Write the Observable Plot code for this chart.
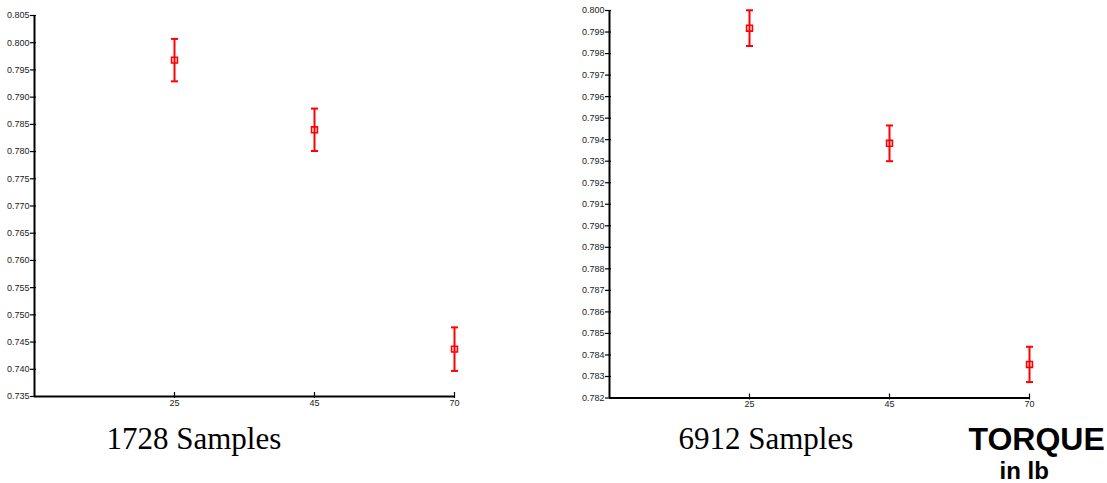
<!DOCTYPE html>
<html><head><meta charset="utf-8">
<script src="https://cdn.jsdelivr.net/npm/d3@7"></script>
<script src="https://cdn.jsdelivr.net/npm/@observablehq/plot@0.6"></script>
<style>
body{margin:0;background:#fff;}
#wrap{position:relative;width:1107px;height:483px;overflow:hidden;}
#wrap > svg{position:absolute;top:0;}
</style></head>
<body><div id="wrap"></div>
<script>
const torques = [25, 45, 70];
const meanA = [0.7968, 0.7840, 0.7437];
const errA = [0.0039, 0.0039, 0.0040];
const meanB = [0.79918, 0.79383, 0.78356];
const errB = [0.00083, 0.00083, 0.00082];
const ticksA = [0.735,0.740,0.745,0.750,0.755,0.760,0.765,0.770,0.775,0.780,0.785,0.790,0.795,0.800,0.805];
const ticksB = [0.782,0.783,0.784,0.785,0.786,0.787,0.788,0.789,0.790,0.791,0.792,0.793,0.794,0.795,0.796,0.797,0.798,0.799,0.800];
const captionA = "1728 Samples";
const captionB = "6912 Samples";
const unitTitle = ["TORQUE", "in lb"];

const red = "#ff0000";
const capSymbol = {draw(ctx){ ctx.moveTo(-3.5,0); ctx.lineTo(3.5,0); }};

function panel(mean, err, yTicks, yDomain, opts, extra) {
  const data = torques.map((t,i)=>({i:i+1, t, m:mean[i], lo:mean[i]-err[i], hi:mean[i]+err[i]}));
  return Plot.plot({
    width: opts.width, height: 483,
    marginLeft: 34, marginRight: opts.marginRight, marginTop: opts.marginTop, marginBottom: opts.marginBottom,
    style: {fontFamily: "Liberation Sans, Arial, sans-serif", background: "transparent"},
    x: {domain: [0, 3], ticks: [1,2,3], tickFormat: i => torques[i-1], label: null},
    y: {domain: yDomain, ticks: yTicks, tickFormat: d3.format(".3f"), label: null},
    marks: [
      Plot.axisY({ticks: yTicks, tickFormat: d3.format(".3f"), label: null, tickSize: 6, dx: 2, tickPadding: 1, fontSize: 9, stroke: "#000", strokeWidth: 1.2, fill: "#222"}),
      Plot.axisX({ticks: [1,2,3], tickFormat: i => torques[i-1], label: null, tickSize: 6, dy: -4, tickPadding: 1, fontSize: 9, stroke: "#000", strokeWidth: 1.2, fill: "#222"}),
      Plot.ruleX([0], {stroke: "#000", strokeWidth: 2}),
      Plot.ruleY([yDomain[0]], {stroke: "#000", strokeWidth: 2}),
      Plot.ruleX(data, {x: "i", y1: "lo", y2: "hi", stroke: red, strokeWidth: 2}),
      Plot.dot(data, {x: "i", y: "hi", symbol: capSymbol, stroke: red, fill: "none", strokeWidth: 2}),
      Plot.dot(data, {x: "i", y: "lo", symbol: capSymbol, stroke: red, fill: "none", strokeWidth: 2}),
      Plot.dot(data, {x: "i", y: "m", symbol: "square", r: 3.3, stroke: red, fill: "none", strokeWidth: 1.6}),
      ...extra
    ]
  });
}

const svgA = panel(meanA, errA, ticksA, [0.735, 0.805], {width: 540, marginRight: 86, marginTop: 15, marginBottom: 87}, [
  Plot.text([captionA], {frameAnchor: "bottom-left", dx: 72, dy: 52, textAnchor: "start", lineAnchor: "bottom", fontSize: 31, fontFamily: "Liberation Serif, Times New Roman, serif", fill: "#000"})
]);
const svgB = panel(meanB, errB, ticksB, [0.782, 0.800], {width: 532, marginRight: 78, marginTop: 10, marginBottom: 85.5}, [
  Plot.text([captionB], {frameAnchor: "bottom-left", dx: 69, dy: 51, textAnchor: "start", lineAnchor: "bottom", fontSize: 31, fontFamily: "Liberation Serif, Times New Roman, serif", fill: "#000"}),
  Plot.text([unitTitle[0]], {frameAnchor: "bottom-left", dx: 359, dy: 52, textAnchor: "start", lineAnchor: "bottom", fontSize: 32, fontWeight: "bold", fontFamily: "Liberation Sans, Arial, sans-serif", fill: "#000"}),
  Plot.text([unitTitle[1]], {frameAnchor: "bottom-left", dx: 390, dy: 81, textAnchor: "start", lineAnchor: "bottom", fontSize: 24, fontWeight: "bold", fontFamily: "Liberation Sans, Arial, sans-serif", fill: "#000"})
]);
svgA.style.left = "0px";
svgB.style.left = "575px";
document.getElementById("wrap").append(svgA, svgB);
</script></body></html>
